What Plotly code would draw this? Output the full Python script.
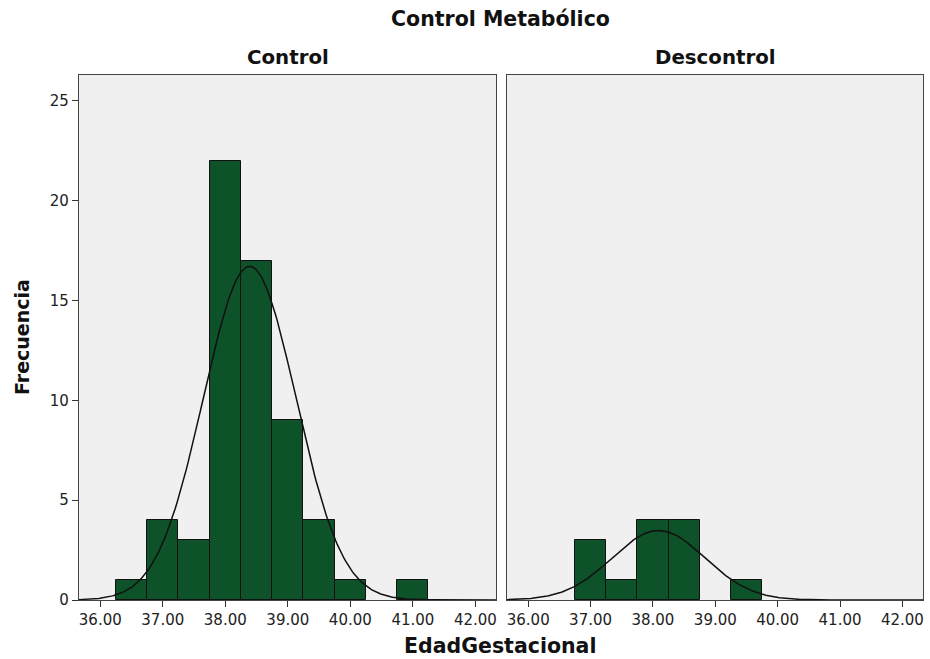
import numpy as np
import plotly.graph_objects as go

# ---- data ----
bin_centers = [36.5, 37.0, 37.5, 38.0, 38.5, 39.0, 39.5, 40.0, 40.5, 41.0]
control_counts = [1, 4, 3, 22, 17, 9, 4, 1, 0, 1]
descontrol_counts = [0, 3, 1, 4, 4, 0, 1, 0, 0, 0]
bin_width = 0.5
control_mean, control_sd = 38.39, 0.74
descontrol_mean, descontrol_sd = 38.09, 0.745
x_tick_vals = [36, 37, 38, 39, 40, 41, 42]
x_tick_text = ["36.00", "37.00", "38.00", "39.00", "40.00", "41.00", "42.00"]
y_tick_vals = [0, 5, 10, 15, 20, 25]
panel_names = ["Control", "Descontrol"]

BAR = "#0D5229"
FONT = "DejaVu Sans"
XR = [35.66, 42.33]
YR = [0, 26.3]

# plot-area pixel geometry (reference coordinates)
L, R, T, B = 79, 923, 75, 600
W, H = 930, 659
PW, PH = R - L, B - T

def px(x):
    return (x - L) / PW

def py(y):
    return (B - y) / PH

fig = go.Figure()

def normal_curve(mean, sd, n):
    xs = np.linspace(XR[0], XR[1], 300)
    ys = n * bin_width / (sd * np.sqrt(2 * np.pi)) * np.exp(-0.5 * ((xs - mean) / sd) ** 2)
    return xs, ys

for i, (counts, mean, sd) in enumerate([
    (control_counts, control_mean, control_sd),
    (descontrol_counts, descontrol_mean, descontrol_sd),
]):
    xa = "x" if i == 0 else "x2"
    ya = "y" if i == 0 else "y2"
    xs_b = [c for c, v in zip(bin_centers, counts) if v > 0]
    ys_b = [v for v in counts if v > 0]
    fig.add_trace(go.Bar(x=xs_b, y=ys_b, width=bin_width,
                         marker=dict(color=BAR, line=dict(color="#111111", width=1)),
                         xaxis=xa, yaxis=ya, showlegend=False, hoverinfo="x+y"))
    cx, cy = normal_curve(mean, sd, sum(counts))
    fig.add_trace(go.Scatter(x=cx, y=cy, mode="lines", line=dict(color="#111111", width=1.5),
                             xaxis=xa, yaxis=ya, showlegend=False, hoverinfo="skip"))

axis_common = dict(showgrid=False, zeroline=False, showline=True, mirror=True,
                   linecolor="#444444", linewidth=1.2)
tickfont = dict(size=15, family=FONT, color="#222222")

fig.update_layout(
    width=W, height=H,
    margin=dict(l=L, r=W - R, t=T, b=H - B, autoexpand=False),
    paper_bgcolor="white",
    plot_bgcolor="#F0F0F0",
    font=dict(family=FONT, size=12, color="#222222"),
    bargap=0,
    xaxis=dict(domain=[0, px(496)], range=XR, tickvals=x_tick_vals, ticktext=x_tick_text, ticks="outside",
               ticklen=6, tickcolor="#333333", tickfont=tickfont, **axis_common),
    xaxis2=dict(domain=[px(507), 1], range=XR, tickvals=x_tick_vals, ticktext=x_tick_text, ticks="outside",
                ticklen=6, tickcolor="#333333", tickfont=tickfont, **axis_common),
    yaxis=dict(anchor="x", range=YR, tickvals=y_tick_vals, ticks="outside", ticklen=6, tickcolor="#333333",
               tickfont=tickfont, **axis_common),
    yaxis2=dict(anchor="x2", range=YR, showticklabels=False, ticks="", **axis_common),
)

title_font = dict(family=FONT, color="#111111")
fig.add_annotation(text="<b>Control Metabólico</b>", xref="paper", yref="paper", x=px(500), y=py(19),
                   showarrow=False, font=dict(size=20.5, **title_font), xanchor="center", yanchor="middle")
fig.add_annotation(text="<b>" + panel_names[0] + "</b>", xref="paper", yref="paper", x=px((79 + 496) / 2),
                   y=py(58), showarrow=False, font=dict(size=19.8, **title_font),
                   xanchor="center", yanchor="middle")
fig.add_annotation(text="<b>" + panel_names[1] + "</b>", xref="paper", yref="paper", x=px((507 + 923) / 2),
                   y=py(58), showarrow=False, font=dict(size=19.8, **title_font),
                   xanchor="center", yanchor="middle")
fig.add_annotation(text="<b>EdadGestacional</b>", xref="paper", yref="paper", x=px(500), y=py(646),
                   showarrow=False, font=dict(size=20.5, **title_font), xanchor="center", yanchor="middle")
fig.add_annotation(text="<b>Frecuencia</b>", xref="paper", yref="paper", x=px(22), y=py(337),
                   showarrow=False, textangle=-90, font=dict(size=19, **title_font),
                   xanchor="center", yanchor="middle")

fig.write_html("out.html", config={"displayModeBar": False},
               post_script="document.body.style.margin='0px';document.body.style.padding='0px';")
